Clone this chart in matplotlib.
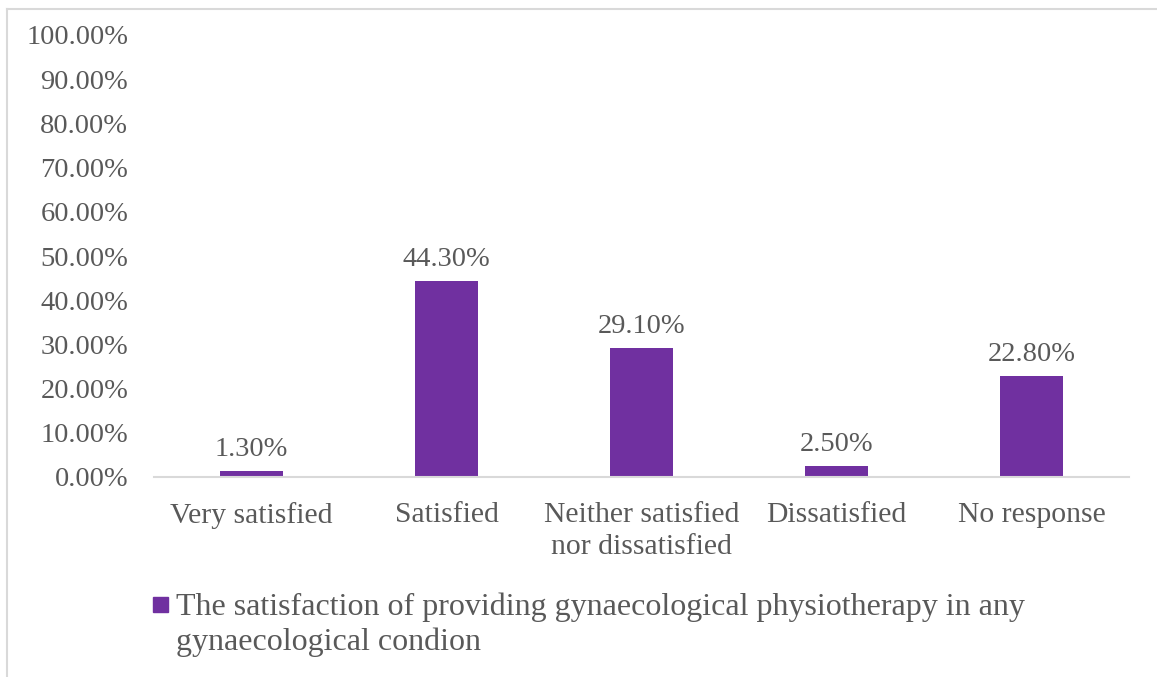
import matplotlib
matplotlib.use("Agg")
import matplotlib.pyplot as plt
from matplotlib.patches import Rectangle
from matplotlib.lines import Line2D

categories = ["Very satisfied", "Satisfied", "Neither satisfied\nnor dissatisfied",
              "Dissatisfied", "No response"]
values = [1.30, 44.30, 29.10, 2.50, 22.80]
series_lines = ["The satisfaction of providing gynaecological physiotherapy in any",
                "gynaecological condion"]
yticks = [0, 10, 20, 30, 40, 50, 60, 70, 80, 90, 100]

plt.rcParams['font.family'] = ['Liberation Serif', 'DejaVu Serif']
TXT = '#595959'
BAR = '#7030A0'
GRID = '#D9D9D9'

W, H = 1157, 677
fig = plt.figure(figsize=(W / 100, H / 100), dpi=100)
ax = fig.add_axes([154 / W, 1 - 477 / H, (1129 - 154) / W, (477 - 35) / H])

x = list(range(len(categories)))
ax.bar(x, values, width=0.318, color=BAR)
for xi, v in zip(x, values):
    ax.annotate(f"{v:.2f}%", (xi, v), xytext=(0, 6.5), textcoords='offset points',
                ha='center', va='bottom', fontsize=20.5, color=TXT)

ax.set_xlim(-0.5, len(categories) - 0.5)
ax.set_ylim(0, 100)
ax.set_yticks(yticks)
ax.set_yticklabels([f"{t:.2f}%" for t in yticks], fontsize=20.5)
ax.set_xticks(x)
ax.set_xticklabels(categories, linespacing=1.3, fontsize=21.3)
ax.tick_params(axis='both', length=0, colors=TXT)
ax.tick_params(axis='y', pad=18.5)
ax.tick_params(axis='x', pad=18)
for s in ['top', 'right', 'left']:
    ax.spines[s].set_visible(False)
ax.spines['bottom'].set_color(GRID)
ax.spines['bottom'].set_linewidth(1.5)

# legend (manual, square aligned with first line)
fig.patches.append(Rectangle((153 / W, 1 - 612 / H), 15 / W, 15 / H,
                             transform=fig.transFigure, color=BAR))
for i, line in enumerate(series_lines):
    fig.text(176 / W, 1 - (615 + 35 * i) / H, line, fontsize=23, color=TXT,
             ha='left', va='baseline', transform=fig.transFigure)

# chart border (top and left visible)
fig.lines.append(Line2D([7 / W, 1.0], [1 - 8.5 / H, 1 - 8.5 / H],
                        transform=fig.transFigure, color=GRID, lw=1.5))
fig.lines.append(Line2D([7 / W, 7 / W], [0, 1 - 8.5 / H],
                        transform=fig.transFigure, color=GRID, lw=1.5))

fig.savefig("out.png", dpi=100)
